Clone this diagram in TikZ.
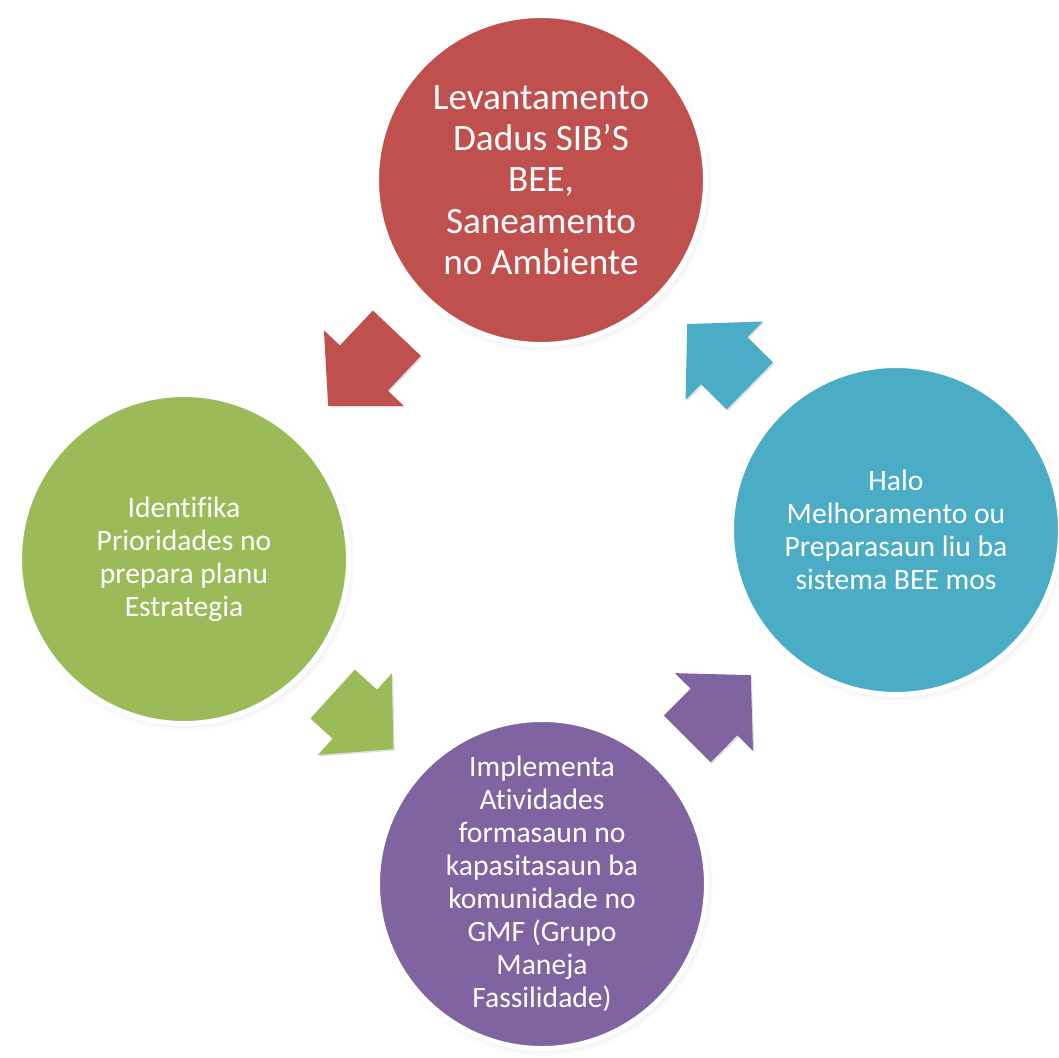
\documentclass[tikz,border=0pt]{standalone}
\usepackage{fontspec}
\setmainfont{Carlito}[Ligatures=NoCommon]
\usetikzlibrary{calc,shadows}

\definecolor{surveyred}{HTML}{C0504D}
\definecolor{plangreen}{HTML}{9BBB59}
\definecolor{workpurple}{HTML}{8064A2}
\definecolor{fixblue}{HTML}{4BACC6}

\begin{document}
\begin{tikzpicture}[x=0.5pt, y=-0.5pt,
    stage/.style={circle, draw=white, line width=2.5pt, fill=#1, minimum size=164.5pt, inner sep=0pt,
      align=center, text=white, font=\fontsize{14.8}{16.5}\selectfont,
      circular drop shadow={shadow scale=1.03, shadow xshift=0.8pt, shadow yshift=-1.2pt, opacity=0.4}},
    flow/.style={fill=#1, drop shadow={shadow xshift=0.6pt, shadow yshift=-0.8pt, opacity=0.25}}]
  \useasboundingbox (0,0) rectangle (1059,1057);

  % Stages
  \node[stage=surveyred, font=\fontsize{18.6}{20.6}\selectfont] (survey) at (541,180)
    {Levantamento\\Dadus SIB’S\\BEE,\\Saneamento\\no Ambiente};                       % Top
  \node[stage=plangreen] (priority) at (184,559)
    {Identifika\\Prioridades no\\prepara planu\\Estrategia};                          % Left
  \node[stage=workpurple] (implement) at (542,884)
    {Implementa\\Atividades\\formasaun no\\kapasitasaun ba\\komunidade no\\GMF (Grupo\\Maneja\\Fassilidade)}; % Bottom
  \node[stage=fixblue] (improve) at (896,530)
    {Halo\\Melhoramento ou\\Preparasaun liu ba\\sistema BEE mos};                     % Right

  % Arrows between stages
  \foreach \a/\b/\ang/\len/\col in {survey/priority/226.6/100/surveyred,
      priority/implement/317.8/82/plangreen,
      implement/improve/45.1/90/workpurple,
      improve/survey/135.4/88/fixblue}
    \fill[flow=\col, shift={($(\a)!0.5!(\b)$)}, rotate=\ang]
      ({-\len/2},-33) -- ({\len/2-52},-33) -- ({\len/2-52},-55) -- ({\len/2},0)
      -- ({\len/2-52},55) -- ({\len/2-52},33) -- ({-\len/2},33) -- cycle;
\end{tikzpicture}
\end{document}
